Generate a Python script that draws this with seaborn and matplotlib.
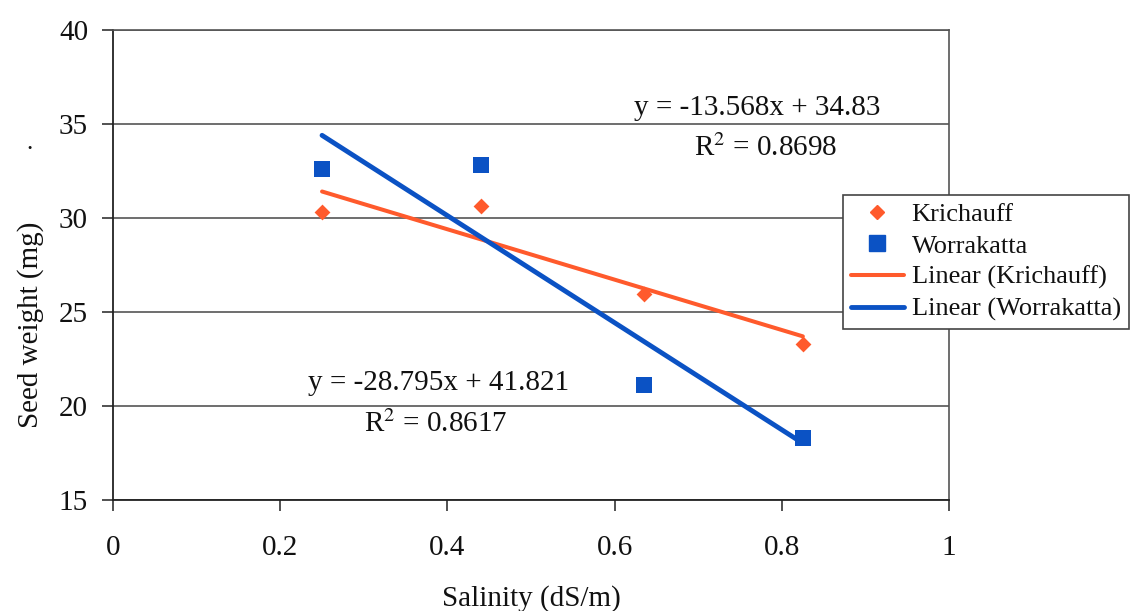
import matplotlib
matplotlib.use("Agg")
import matplotlib.pyplot as plt
import seaborn as sns
import numpy as np
import pandas as pd
from matplotlib.lines import Line2D

# ---- data ----
salinity = [0.25, 0.44, 0.635, 0.825]
krichauff = [30.3, 30.65, 25.95, 23.3]
worrakatta = [32.6, 32.8, 21.1, 18.3]
series_names = ["Krichauff", "Worrakatta"]
eq_krichauff = ["y = -13.568x + 34.83", "R$^2$ = 0.8698"]
eq_worrakatta = ["y = -28.795x + 41.821", "R$^2$ = 0.8617"]
x_ticks = [0, 0.2, 0.4, 0.6, 0.8, 1]
x_ticklabels = ["0", "0.2", "0.4", "0.6", "0.8", "1"]
y_ticks = [15, 20, 25, 30, 35, 40]

orange = "#FF5A2C"
blue = "#0B52C4"

sns.set_theme(style="white")
plt.rcParams["font.family"] = ["Liberation Serif", "DejaVu Serif"]
plt.rcParams["mathtext.fontset"] = "stix"
plt.rcParams["text.color"] = "#111111"

df = pd.DataFrame({"x": salinity, "Krichauff": krichauff, "Worrakatta": worrakatta})

fig = plt.figure(figsize=(11.3, 6.11), dpi=100)
ax = fig.add_axes([0.1, 0.182, 0.74, 0.769])

sns.regplot(data=df, x="x", y="Krichauff", ax=ax, ci=None, marker="D",
            color=orange, scatter_kws=dict(s=65, color=orange, linewidths=0, alpha=1, zorder=3),
            line_kws=dict(color=orange, lw=2.9, zorder=2))
sns.regplot(data=df, x="x", y="Worrakatta", ax=ax, ci=None, marker="s",
            color=blue, scatter_kws=dict(s=125, color=blue, linewidths=0, alpha=1, zorder=3),
            line_kws=dict(color=blue, lw=3.5, zorder=2))

ax.set_xlim(0, 1)
ax.set_ylim(15, 40)
ax.set_xticks(x_ticks)
ax.set_xticklabels(x_ticklabels)
ax.set_yticks(y_ticks)
ax.yaxis.grid(True, color="#555555", lw=1.2)
ax.xaxis.grid(False)
for s in ["left", "bottom"]:
    ax.spines[s].set_color("#222222")
    ax.spines[s].set_linewidth(1.3)
for s in ["right", "top"]:
    ax.spines[s].set_color("#555555")
    ax.spines[s].set_linewidth(1.2)

ax.tick_params(axis="x", direction="out", length=8, width=1.2, color="#333333",
               pad=17, labelsize=21, labelcolor="#111111", bottom=True)
ax.tick_params(axis="y", direction="out", length=8, width=1.2, color="#333333",
               pad=10, labelsize=21, labelcolor="#111111", left=True)
ax.set_xlabel("Salinity (dS/m)", fontsize=21, labelpad=18, color="#111111")
ax.set_ylabel("Seed weight (mg)", fontsize=21, color="#111111", va="center")
ax.yaxis.set_label_coords(-0.099, 0.372)

ax.text(0.77, 35.85, eq_krichauff[0], ha="center", va="center", fontsize=21)
ax.text(0.78, 33.7, eq_krichauff[1], ha="center", va="center", fontsize=21)
ax.text(0.389, 21.2, eq_worrakatta[0], ha="center", va="center", fontsize=21)
ax.text(0.386, 19.0, eq_worrakatta[1], ha="center", va="center", fontsize=21)

fig.text(30 / 1130, 1 - 143 / 611, ".", ha="center", va="center", fontsize=18)

handles = [
    Line2D([], [], ls="none", marker="D", color=orange, markersize=7.5),
    Line2D([], [], ls="none", marker="s", color=blue, markersize=11),
    Line2D([], [], color=orange, lw=2.9),
    Line2D([], [], color=blue, lw=3.5),
]
labels = [series_names[0], series_names[1],
          "Linear (" + series_names[0] + ")", "Linear (" + series_names[1] + ")"]
leg = ax.legend(handles, labels, loc="upper left", bbox_to_anchor=(0.746, 0.681),
                bbox_transform=fig.transFigure, fontsize=19, frameon=True,
                fancybox=False, edgecolor="#444444", framealpha=1,
                borderpad=0.3, handlelength=2.0, handletextpad=0.3,
                labelspacing=0.3, borderaxespad=0)
leg.get_frame().set_linewidth(1.2)
for t in leg.get_texts():
    t.set_color("#111111")

fig.savefig("out.png", dpi=100)
